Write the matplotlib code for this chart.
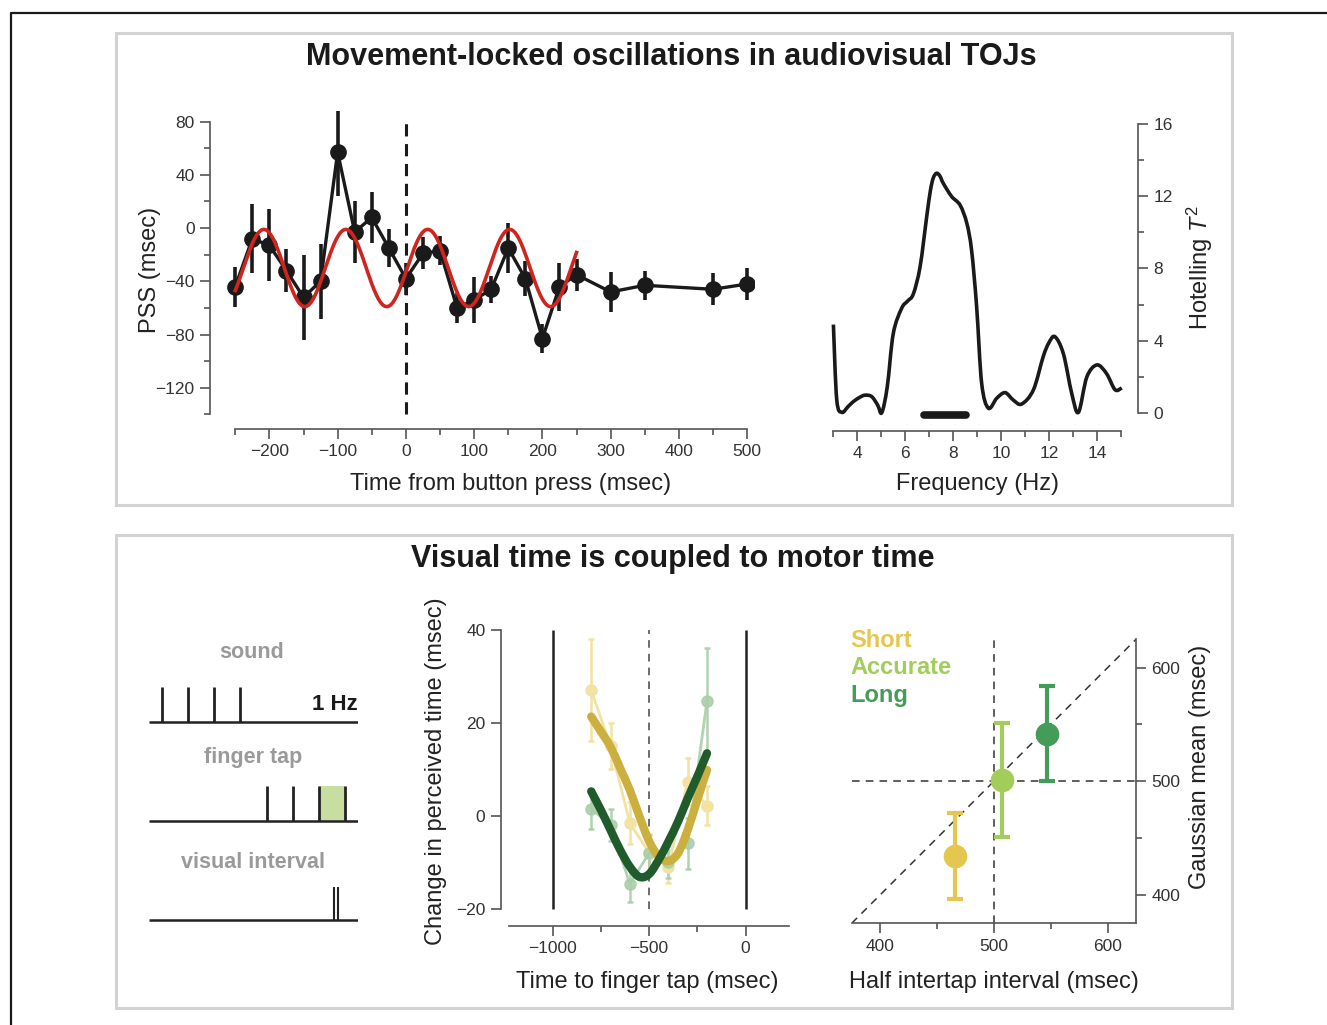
import numpy as np
import matplotlib.pyplot as plt
from matplotlib.patches import Rectangle, PathPatch
from matplotlib.path import Path
from matplotlib.lines import Line2D
from matplotlib.ticker import MultipleLocator

plt.rcParams['font.family'] = ['Liberation Sans', 'DejaVu Sans']
plt.rcParams['mathtext.fontset'] = 'custom'
plt.rcParams['mathtext.rm'] = 'Liberation Sans'
plt.rcParams['mathtext.it'] = 'Liberation Sans:italic'

W, H = 1327, 1025

# --- top left: PSS vs time from button press ---
pss_time = [-250, -225, -200, -175, -150, -125, -100, -75, -50, -25, 0, 25, 50,
            75, 100, 125, 150, 175, 200, 225, 250, 300, 350, 450, 500]
pss_mean = [-44, -8, -13, -32, -52, -40, 57, -3, 8, -15, -38, -19, -17,
            -60, -54, -46, -15, -38, -83, -44, -35, -48, -43, -46, -42]
pss_err = [15, 26, 27, 16, 32, 28, 33, 23, 19, 14, 12, 12, 11,
           11, 17, 10, 19, 13, 11, 18, 12, 15, 11, 12, 12]

# sinusoid fit (parameters)
fit_freq_hz = 8.33
fit_amp = 29.0
fit_offset = -30.0
fit_peak_ms = 32.0
fit_range_ms = (-250, 250)

# --- top right: Hotelling T2 spectrum ---
spec_freq = [3.0, 3.14, 3.35, 3.6, 3.83, 4.1, 4.32, 4.6, 4.85, 5.02, 5.25, 5.5,
             5.85, 6.1, 6.34, 6.62, 6.9, 7.05, 7.17, 7.31, 7.45, 7.59, 7.94,
             8.29, 8.57, 8.77, 8.98, 9.19, 9.47, 9.82, 10.17, 10.51, 10.86,
             11.35, 11.76, 12.0, 12.25, 12.6, 12.95, 13.23, 13.58, 14.0, 14.4,
             14.76, 15.04]
spec_t2 = [4.9, 0.75, 0.05, 0.35, 0.64, 0.88, 1.0, 0.92, 0.45, 0.03, 1.47, 4.4,
           5.8, 6.2, 6.6, 8.1, 10.9, 12.3, 13.0, 13.26, 13.1, 12.7, 11.97,
           11.5, 10.5, 9.0, 5.9, 1.66, 0.28, 0.83, 1.14, 0.73, 0.51,
           1.29, 3.13, 3.9, 4.23, 3.3, 1.1, 0.05, 2.0, 2.67, 2.2,
           1.3, 1.4]
sig_band_hz = (6.8, 8.55)

# --- bottom left: schematic ---
sound_beats = [0, 1, 2, 3]
tap_beats = [4, 5, 6, 7]
flash_beats = [6.6, 6.75]
judged_interval = (6, 7)

# --- bottom middle: change in perceived time ---
tap_time = [-800, -700, -600, -500, -400, -300, -200]
short_mean = [27, 15, -1.6, -8, -11, 7.3, 2.1]
short_err = [11, 5, 4.5, 4, 3.5, 5, 4.2]
long_mean = [1.4, -2, -14.7, -8.1, -10, -6, 24.7]
long_err = [4.3, 3.5, 4, 4, 3.5, 5.5, 11.4]
fit_time = [-800, -750, -700, -650, -600, -550, -500, -450, -400, -350, -300, -250, -200]
short_fit = [21.3, 18.1, 14.8, 10.2, 5.5, -0.2, -5.5, -8.8, -9.8, -8.1, -3.1, 3.4, 9.8]
long_fit = [5.2, 1.2, -3.1, -7.4, -11.0, -13.2, -12.6, -9.5, -5.6, -1.3, 3.7, 8.4, 13.4]

# --- bottom right: Gaussian mean vs half intertap interval ---
cond_names = ['Short', 'Accurate', 'Long']
cond_colors = ['#e5c64e', '#a2cd5a', '#459b58']
half_iti = [466, 507, 547]
gauss_mean = [434, 501, 542]
gauss_err = [38, 50, 41.5]

SPINE = '#555555'
TICKLAB = '#333333'
LABEL = '#222222'


def style(ax, labelsize=12.5):
    ax.tick_params(which='both', direction='out', colors=SPINE, labelcolor=TICKLAB,
                   labelsize=labelsize, width=1.2)
    ax.tick_params(which='major', length=7, pad=4)
    ax.tick_params(which='minor', length=4)
    for s in ax.spines.values():
        s.set_color(SPINE)
        s.set_linewidth(1.2)


def ftext(x, y, s, **kw):
    fig.text(x / W, 1 - y / H, s, **kw)


def smooth_line(ax, xs, ys, **kw):
    # draw a Catmull-Rom style curve through the read points as bezier segments
    p = np.column_stack([xs, ys]).astype(float)
    verts = [p[0]]
    codes = [Path.MOVETO]
    n = len(p)
    for i in range(n - 1):
        p0 = p[i - 1] if i > 0 else p[i]
        p3 = p[i + 2] if i + 2 < n else p[i + 1]
        c1 = p[i] + (p[i + 1] - p0) / 6
        c2 = p[i + 1] - (p3 - p[i]) / 6
        verts += [c1, c2, p[i + 1]]
        codes += [Path.CURVE4] * 3
    ax.add_patch(PathPatch(Path(verts, codes), fill=False, **kw))


fig = plt.figure(figsize=(W / 100, H / 100), dpi=100, facecolor='white')

# outer frame and panel boxes
fig.add_artist(Line2D([11 / W, 11 / W, 1.0], [0, 1 - 13 / H, 1 - 13 / H],
                      transform=fig.transFigure, color='#1a1a1a', lw=1.6))
for top, bot in [(33, 505), (535, 1008)]:
    fig.add_artist(Rectangle((116 / W, 1 - bot / H), (1232 - 116) / W, (bot - top) / H,
                             transform=fig.transFigure, fill=False,
                             ec='#d2d2d2', lw=2.2))

ftext(671, 57, 'Movement-locked oscillations in audiovisual TOJs', fontsize=22,
      fontweight='bold', color='#1a1a1a', ha='center', va='center')
ftext(673, 559, 'Visual time is coupled to motor time', fontsize=22,
      fontweight='bold', color='#1a1a1a', ha='center', va='center')

# ---------------- top left ----------------
ax1 = fig.add_axes([210 / W, 1 - 429 / H, 544 / W, 318 / H])
ax1.set_xlim(-287, 510)
ax1.set_ylim(-151, 88)
ax1.spines['top'].set_visible(False)
ax1.spines['right'].set_visible(False)
ax1.spines['left'].set_bounds(-140, 80)
ax1.spines['bottom'].set_bounds(-250, 500)
ax1.set_xticks(range(-200, 501, 100))
ax1.xaxis.set_minor_locator(MultipleLocator(50))
ax1.set_yticks([-120, -80, -40, 0, 40, 80])
ax1.yaxis.set_minor_locator(MultipleLocator(20))
style(ax1)
ax1.set_xticklabels([f'{v}'.replace('-', '\u2212') for v in range(-200, 501, 100)])
ax1.set_yticklabels([f'{v}'.replace('-', '\u2212') for v in [-120, -80, -40, 0, 40, 80]])
ax1.vlines(0, -140, 80, color='#1a1a1a', lw=2.2, linestyles=(0, (4, 2.5)))
ax1.errorbar(pss_time, pss_mean, yerr=pss_err, fmt='o-', color='#1a1a1a', ms=11,
             lw=2.4, elinewidth=2.6, capsize=0, zorder=3)
t = np.linspace(fit_range_ms[0], fit_range_ms[1], 600)
ax1.plot(t, fit_offset + fit_amp * np.cos(2 * np.pi * fit_freq_hz * (t - fit_peak_ms) / 1000),
         color='#d0251f', lw=2.6, zorder=4)
ftext(150, 270, 'PSS (msec)', fontsize=17, color=LABEL, rotation=90, ha='center', va='center')
ftext(511, 484, 'Time from button press (msec)', fontsize=17, color=LABEL, ha='center', va='center')

# ---------------- top right ----------------
ax2 = fig.add_axes([825 / W, 1 - 431 / H, 313.3 / W, 316.4 / H])
ax2.set_xlim(2.65, 15.73)
ax2.set_ylim(-0.98, 16.5)
ax2.spines['top'].set_visible(False)
ax2.spines['left'].set_visible(False)
ax2.spines['right'].set_bounds(0, 16)
ax2.spines['bottom'].set_bounds(3, 15)
ax2.yaxis.tick_right()
ax2.set_xticks(range(4, 15, 2))
ax2.xaxis.set_minor_locator(MultipleLocator(1))
ax2.set_yticks(range(0, 17, 4))
ax2.yaxis.set_minor_locator(MultipleLocator(2))
style(ax2)
smooth_line(ax2, spec_freq, spec_t2, edgecolor='#1a1a1a', lw=2.6, joinstyle='round')
ax2.plot(sig_band_hz, [-0.08, -0.08], color='#1a1a1a', lw=5.5, solid_capstyle='round')
ftext(977, 484, 'Frequency (Hz)', fontsize=17, color=LABEL, ha='center', va='center')
ftext(1200, 268, 'Hotelling $T^2$', fontsize=17, color=LABEL, rotation=90,
      ha='center', va='center')

# ---------------- bottom left schematic ----------------
ax0 = fig.add_axes([149.3 / W, 1 - 930 / H, 208.4 / W, 290 / H])
ax0.set_xlim(-0.5, 7.5)
ax0.set_ylim(930, 640)
ax0.axis('off')
ax0.add_patch(Rectangle((judged_interval[0], 786), judged_interval[1] - judged_interval[0], 35,
                        facecolor='#c8dea0', edgecolor='none', zorder=1))
ax0.hlines([722, 821, 920], -0.5, 7.5, color='#222222', lw=1.8, zorder=2)
ax0.vlines(sound_beats, 686.7, 722, color='#222222', lw=2.0, zorder=3)
ax0.vlines(tap_beats, 786, 821, color='#222222', lw=2.0, zorder=3)
ax0.vlines(flash_beats, 886.7, 920, color='#222222', lw=1.5, zorder=3)
GREY = '#9a9a9a'
ax0.text(3.43, 653, 'sound', fontsize=15.5, fontweight='bold', color=GREY, ha='center', va='center')
ax0.text(3.49, 757, 'finger tap', fontsize=15.5, fontweight='bold', color=GREY, ha='center', va='center')
ax0.text(3.47, 862, 'visual interval', fontsize=15.5, fontweight='bold', color=GREY,
         ha='center', va='center')
ax0.text(7.5, 705, '1 Hz', fontsize=16, fontweight='bold', color='#1a1a1a', ha='right', va='center')

# ---------------- bottom middle ----------------
ax3 = fig.add_axes([500.7 / W, 1 - 925.7 / H, 288.3 / W, 303 / H])
ax3.set_xlim(-1269, 225)
ax3.set_ylim(-23.7, 41.5)
ax3.spines['top'].set_visible(False)
ax3.spines['right'].set_visible(False)
ax3.spines['left'].set_bounds(-20, 40)
ax3.spines['bottom'].set_bounds(-1225, 225)
ax3.set_xticks([-1000, -500, 0])
ax3.set_xticks([-750, -250], minor=True)
ax3.set_yticks([-20, 0, 20, 40])
style(ax3)
ax3.set_xticklabels(['\u22121000', '\u2212500', '0'])
ax3.set_yticklabels(['\u221220', '0', '20', '40'])
ax3.vlines([-1000, 0], -20, 40, color='#222222', lw=1.8)
ax3.vlines(-500, -20, 40, color='#444444', lw=1.1, linestyles=(0, (5, 4)))
ax3.errorbar(tap_time, short_mean, yerr=short_err, fmt='o-', color='#f2e2a3', ms=8,
             lw=2, elinewidth=1.8, capsize=2.5, capthick=1.8, zorder=2)
ax3.errorbar(tap_time, long_mean, yerr=long_err, fmt='o-', color='#a9cfa9', ms=8,
             lw=2, elinewidth=1.8, capsize=2.5, capthick=1.8, alpha=0.9, zorder=2)
smooth_line(ax3, fit_time, short_fit, edgecolor='#cbb03f', lw=6, capstyle='round',
            joinstyle='round', zorder=3)
smooth_line(ax3, fit_time, long_fit, edgecolor='#1f5b2b', lw=6, capstyle='round',
            joinstyle='round', zorder=4)
ftext(436, 771, 'Change in perceived time (msec)', fontsize=17, color=LABEL, rotation=90,
      ha='center', va='center')
ftext(647, 982, 'Time to finger tap (msec)', fontsize=17, color=LABEL, ha='center', va='center')

# ---------------- bottom right ----------------
ax4 = fig.add_axes([851.7 / W, 1 - 923.3 / H, 284.3 / W, 284 / H])
ax4.set_xlim(375, 625)
ax4.set_ylim(375, 625)
ax4.spines['top'].set_visible(False)
ax4.spines['left'].set_visible(False)
ax4.yaxis.tick_right()
ax4.set_xticks([400, 500, 600])
ax4.set_xticks([450, 550], minor=True)
ax4.set_yticks([400, 500, 600])
ax4.set_yticks([450, 550], minor=True)
style(ax4)
ax4.axline((500, 500), slope=1, color='#333333', lw=1.1, ls=(0, (5, 4)))
ax4.axhline(500, color='#333333', lw=1.1, ls=(0, (5, 4)))
ax4.axvline(500, color='#333333', lw=1.1, ls=(0, (5, 4)))
for xv, yv, ev, c in zip(half_iti, gauss_mean, gauss_err, cond_colors):
    ax4.errorbar(xv, yv, yerr=ev, fmt='o', color=c, ms=16, elinewidth=3,
                 capsize=6, capthick=3, zorder=4)
for i, (name, c) in enumerate(zip(cond_names, cond_colors)):
    ftext(850.7, 647 + 27.5 * i, name, fontsize=17, fontweight='bold', color=c,
          ha='left', va='baseline')
ftext(994, 982, 'Half intertap interval (msec)', fontsize=17, color=LABEL, ha='center', va='center')
ftext(1200, 767, 'Gaussian mean (msec)', fontsize=17, color=LABEL, rotation=90,
      ha='center', va='center')

fig.savefig('out.png', dpi=100, facecolor='white')
